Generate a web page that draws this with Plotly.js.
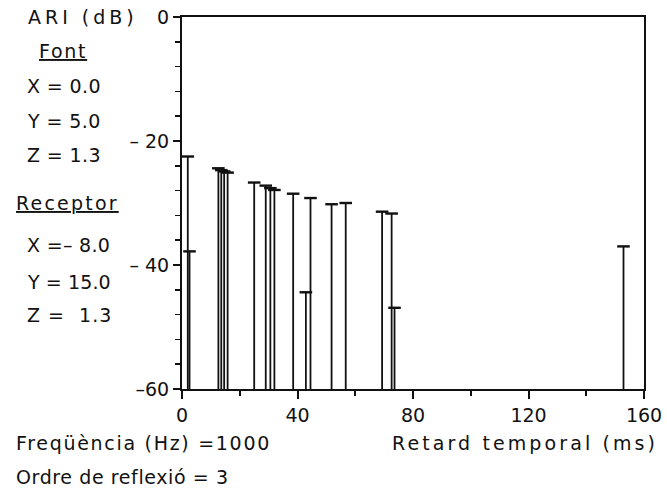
<!DOCTYPE html>
<html>
<head>
<meta charset="utf-8">
<script src="https://cdn.plot.ly/plotly-3.0.1.min.js"></script>
<style>
html,body{margin:0;padding:0;background:#fff;}
#chart{width:667px;height:501px;}
</style>
</head>
<body>
<div id="chart"></div>
<script>
// Retard temporal (ms) of each reflection
const delays = [2.0, 2.6, 12.6, 13.6, 14.6, 15.8, 25.0, 29.0, 30.6, 32.0, 38.5, 42.9, 44.5, 51.8, 56.7, 69.3, 72.6, 73.6, 152.9];
// ARI (dB) of each reflection
const levels = [-22.5, -37.8, -24.4, -24.7, -24.9, -25.1, -26.7, -27.2, -27.6, -27.9, -28.5, -44.4, -29.2, -30.2, -30.0, -31.4, -31.7, -46.9, -37.0];
const baseLevel = -60;

const xTickVals = [0, 40, 80, 120, 160];
const xTickText = ["0", "40", "80", "120", "160"];
const yTickVals = [0, -20, -40, -60];
const yTickText = ["0", "\u2013 20", "\u2013 40", "\u201360"];

// side texts
const infoTexts = [
  "ARI (dB)", "Font", "X = 0.0", "Y = 5.0", "Z = 1.3",
  "Receptor", "X =\u2013 8.0", "Y = 15.0", "Z =  1.3",
  "Freq\u00fc\u00e8ncia (Hz) =1000", "Ordre de reflexi\u00f3 = 3",
  "Retard temporal (ms)"
];

// layout of side texts (pixel left edge / centre y, underline, letter spacing)
const infoLayout = [
  {x: 28, y: 17, u: false, sp: 4.0},
  {x: 39, y: 51, u: true, sp: 1.7},
  {x: 27, y: 86, u: false, sp: 0.4},
  {x: 27, y: 121, u: false, sp: 0.4},
  {x: 27, y: 155, u: false, sp: 0.4},
  {x: 16, y: 203, u: true, sp: 2.2},
  {x: 27, y: 245, u: false, sp: 0.3},
  {x: 27, y: 282, u: false, sp: 0.1},
  {x: 27, y: 315, u: false, sp: 1.0},
  {x: 16, y: 443, u: false, sp: 1.7},
  {x: 16, y: 477, u: false, sp: 0.6},
  {x: 392, y: 443, u: false, sp: 3.1}
];

const FONT = "DejaVu Sans, sans-serif";
const W = 667, H = 501;
const m = {l: 182, r: 23, t: 17, b: 112};
const pw = W - m.l - m.r, ph = H - m.t - m.b;

// stems
const sx = [], sy = [];
for (let i = 0; i < delays.length; i++) {
  sx.push(delays[i], delays[i], null);
  sy.push(baseLevel, levels[i], null);
}

const traces = [
  {
    x: sx, y: sy, type: "scatter", mode: "lines",
    line: {color: "#111", width: 1.8}, hoverinfo: "skip", showlegend: false
  },
  {
    x: delays, y: levels, type: "scatter", mode: "markers",
    marker: {symbol: "line-ew-open", size: 9, color: "#111", line: {color: "#111", width: 2.4}},
    showlegend: false
  }
];

const annotations = infoTexts.map((t, i) => {
  const p = infoLayout[i];
  return {
    text: t, xref: "paper", yref: "paper",
    x: (p.x - m.l) / pw, y: (H - m.b - p.y) / ph,
    xanchor: "left", yanchor: "middle", showarrow: false,
    font: {family: FONT, size: 19, color: "#111", lineposition: p.u ? "under" : "none"}
  };
});

const layout = {
  width: W, height: H,
  margin: m,
  paper_bgcolor: "#fff", plot_bgcolor: "#fff",
  showlegend: false,
  font: {family: FONT, size: 18, color: "#111"},
  xaxis: {
    range: [0, 160], showgrid: false, zeroline: false,
    showline: true, mirror: true, linecolor: "#111", linewidth: 2,
    ticks: "outside", ticklen: 8, tickwidth: 2, tickcolor: "#111",
    tickvals: xTickVals, ticktext: xTickText,
    minor: {dtick: 20, tick0: 0, ticks: "outside", ticklen: 5, tickwidth: 2, tickcolor: "#111", showgrid: false},
    tickfont: {family: FONT, size: 19, color: "#111"}
  },
  yaxis: {
    range: [-60, 0], showgrid: false, zeroline: false,
    showline: true, mirror: true, linecolor: "#111", linewidth: 2,
    ticks: "outside", ticklen: 7, tickwidth: 2, tickcolor: "#111",
    tickvals: yTickVals, ticktext: yTickText,
    minor: {dtick: 4, tick0: 0, ticks: "outside", ticklen: 5, tickwidth: 1.5, tickcolor: "#111", showgrid: false},
    tickfont: {family: FONT, size: 19, color: "#111"}
  },
  annotations: annotations
};

Plotly.newPlot("chart", traces, layout, {displayModeBar: false, staticPlot: true}).then(gd => {
  const host = gd.getBoundingClientRect();
  const nodes = gd.querySelectorAll(".annotation .annotation-text");
  nodes.forEach((n, i) => {
    const p = infoLayout[i];
    if (!p) return;
    n.style.letterSpacing = p.sp + "px";
    const r = n.getBoundingClientRect();
    const dx = p.x - (r.left - host.left);
    const x0 = parseFloat(n.getAttribute("x") || "0");
    n.setAttribute("x", x0 + dx);
    n.querySelectorAll("tspan[x]").forEach(ts => {
      ts.setAttribute("x", parseFloat(ts.getAttribute("x")) + dx);
    });
  });
});
</script>
</body>
</html>
